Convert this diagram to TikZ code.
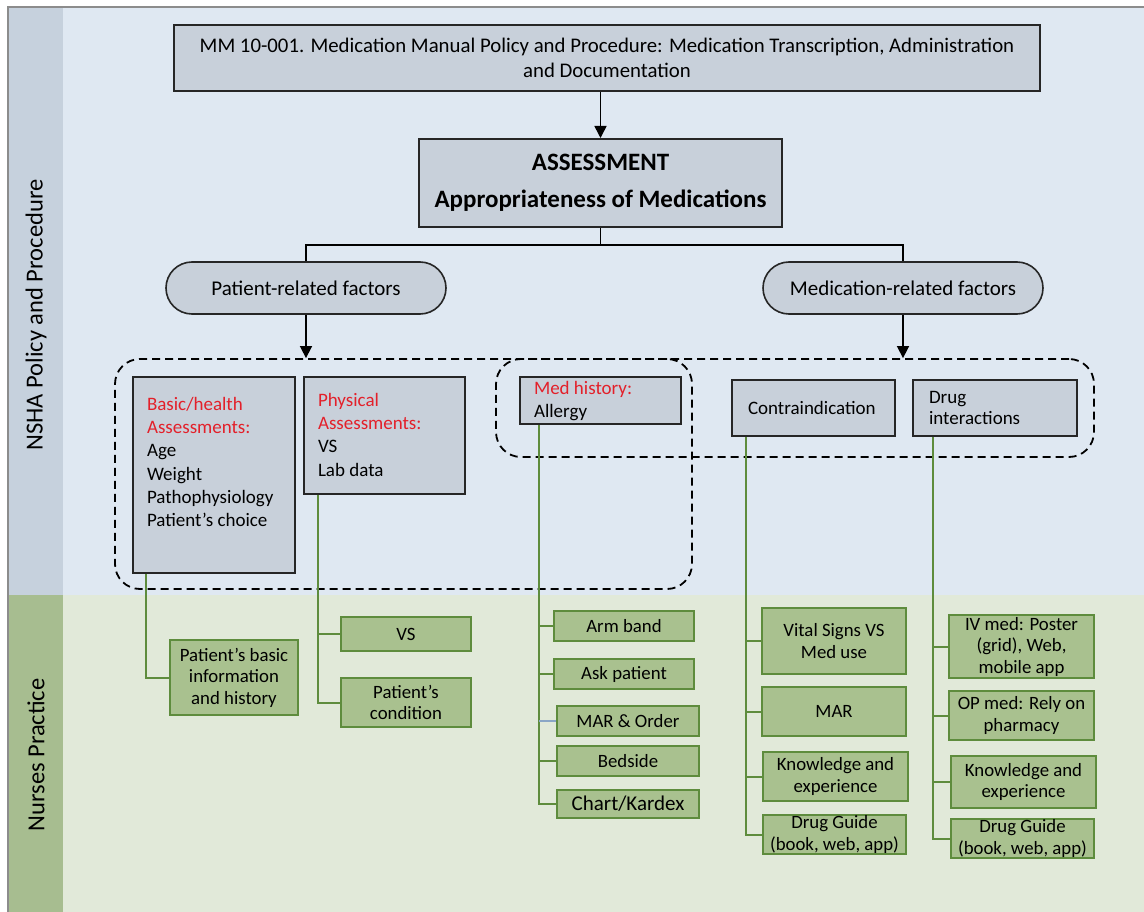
\documentclass[tikz,border=0pt]{standalone}
\usepackage{fontspec}
\setmainfont{Carlito}
\usetikzlibrary{arrows.meta}
\definecolor{bgblue}{HTML}{DFE8F2}
\definecolor{colblue}{HTML}{C6D1DD}
\definecolor{bggreen}{HTML}{E1E9D9}
\definecolor{colgreen}{HTML}{A7BD90}
\definecolor{boxgray}{HTML}{C8D0DA}
\definecolor{gfill}{HTML}{A9C18F}
\definecolor{glinecol}{HTML}{5E8C3D}
\definecolor{redtxt}{HTML}{E3202A}
\definecolor{bluelink}{HTML}{8AA6C6}
\definecolor{edgegray}{HTML}{8C8C8C}
\tikzset{
  body/.style={font=\fontsize{19}{23.3}\selectfont},
  graybox/.style={draw=black!85, line width=2pt, fill=boxgray, inner sep=0pt},
  pill/.style={draw=black!85, line width=1.6pt, fill=boxgray, rounded corners=26pt,
    font=\fontsize{21}{25}\selectfont, inner sep=0pt},
  greenbox/.style={draw=glinecol, line width=2pt, fill=gfill, inner sep=0pt, align=center,
    font=\fontsize{18.8}{21.5}\selectfont},
  region/.style={draw=black, line width=1.8pt, dash pattern=on 8pt off 5pt, rounded corners=25pt, inner sep=0pt},
  conn/.style={draw=black, line width=1.6pt},
  arr/.style={conn, -{Triangle[length=12pt,width=12pt]}},
  glink/.style={draw=glinecol, line width=2pt},
  sidelabel/.style={rotate=90, font=\fontsize{24.5}{28}\selectfont}
}
\begin{document}
\begin{tikzpicture}[x=1pt,y=-1pt]
\useasboundingbox (0,0) rectangle (1144,912);
% bands
\fill[white] (0,0) rectangle (1144,912);
\fill[bgblue] (8,8) rectangle (1144,595);
\fill[bggreen] (8,595) rectangle (1144,912);
\fill[colblue] (8,8) rectangle (63,595);
\fill[colgreen] (8,595) rectangle (63,912);
\draw[edgegray, line width=1.6pt] (8,912) -- (8,7) -- (1144,7);
\node[sidelabel] (lab1) at (36,315) {NSHA Policy and Procedure};
\node[sidelabel] (lab2) at (36,755) {Nurses Practice};

% dashed regions
\node[region, minimum width=577pt, minimum height=230pt] (reg1) at (403.5,474) {};
\node[region, minimum width=598pt, minimum height=98pt] (reg2) at (795,408) {};

% top
\node[graybox, minimum width=866pt, minimum height=66pt, align=center,
  font=\fontsize{20.8}{25}\selectfont] (top) at (607,58)
  {MM 10-001. Medication Manual Policy and Procedure: Medication Transcription, Administration\\and Documentation};
\node[graybox, minimum width=363pt, minimum height=88pt, align=center,
  font=\fontsize{25}{37}\selectfont\bfseries] (assess) at (600.5,183)
  {ASSESSMENT\\Appropriateness of Medications};
\node[pill, minimum width=280pt, minimum height=52pt] (pat) at (306,288) {Patient-related factors};
\node[pill, minimum width=280pt, minimum height=52pt] (med) at (903,288) {Medication-related factors};

\draw[arr] (top.south -| assess.north) -- (assess.north);
\coordinate (br) at (600.5,245);
\draw[conn] (assess.south) -- (br) -| (pat.north);
\draw[conn] (br) -| (med.north);
\draw[arr] (pat.south) -- (pat.south |- reg1.north);
\draw[arr] (med.south) -- (med.south |- reg2.north);

% gray boxes
\node[graybox, body, anchor=north west, inner xsep=14pt, inner ysep=20pt] (basic) at (132,376)
  {\parbox[t][156pt][t]{134pt}{{\color{redtxt}Basic/health\\Assessments:}\\Age\\Weight\\Pathophysiology\\Patient’s choice}};
\node[graybox, body, anchor=north west, inner xsep=14pt, inner ysep=16pt] (phys) at (303,376)
  {\parbox[t][85pt][t]{133pt}{{\color{redtxt}Physical\\Assessments:}\\VS\\Lab data}};
\node[graybox, body, anchor=north west, inner xsep=14pt, inner ysep=4pt] (medh) at (519,376)
  {\parbox[t][39pt][t]{133pt}{{\color{redtxt}Med history:}\\Allergy}};
\node[graybox, body, minimum width=163pt, minimum height=56pt, text width=131pt, align=left] (contra) at (813.5,408)
  {Contraindication};
\node[graybox, font=\fontsize{19}{21.5}\selectfont, minimum width=164pt, minimum height=56pt, text width=132pt, align=left] (drug) at (995,408)
  {Drug\\interactions};

% green boxes
\node[greenbox, minimum width=128pt, minimum height=75pt] (gbasic) at (234,677.5) {Patient’s basic\\information\\and history};
\node[greenbox, minimum width=130pt, minimum height=34pt] (gvs) at (406,634) {VS};
\node[greenbox, minimum width=130pt, minimum height=49pt] (gcond) at (406,702.5) {Patient’s\\condition};
\node[greenbox, minimum width=140pt, minimum height=30pt] (garm) at (624,626) {Arm band};
\node[greenbox, minimum width=140pt, minimum height=30pt] (gask) at (624,674) {Ask patient};
\node[greenbox, minimum width=142pt, minimum height=30pt] (gmar) at (628,721) {MAR \& Order};
\node[greenbox, minimum width=142pt, minimum height=30pt] (gbed) at (628,761) {Bedside};
\node[greenbox, minimum width=142pt, minimum height=28pt, font=\fontsize{21}{24}\selectfont] (gchart) at (628,804) {Chart/Kardex};
\node[greenbox, minimum width=144pt, minimum height=66pt] (gvital) at (834,641) {Vital Signs VS\\Med use};
\node[greenbox, minimum width=144pt, minimum height=49pt] (gmar2) at (834,711.5) {MAR};
\node[greenbox, minimum width=145pt, minimum height=49pt] (gknow1) at (835.5,776.5) {Knowledge and\\experience};
\node[greenbox, minimum width=143pt, minimum height=39pt] (gguide1) at (834.5,834.5) {Drug Guide\\(book, web, app)};
\node[greenbox, minimum width=145pt, minimum height=63pt] (giv) at (1021.5,646.5) {IV med: Poster\\(grid), Web,\\mobile app};
\node[greenbox, minimum width=145pt, minimum height=49pt] (gop) at (1021.5,715.5) {OP med: Rely on\\pharmacy};
\node[greenbox, minimum width=145pt, minimum height=52pt] (gknow2) at (1023.5,782) {Knowledge and\\experience};
\node[greenbox, minimum width=143pt, minimum height=39pt] (gguide2) at (1022.5,838.5) {Drug Guide\\(book, web, app)};

% green connectors
\coordinate (bv) at ([xshift=14pt]basic.south west);
\coordinate (pv) at ([xshift=15pt]phys.south west);
\coordinate (mv) at ([xshift=20pt]medh.south west);
\coordinate (cv) at ([xshift=15pt]contra.south west);
\coordinate (dv) at ([xshift=21pt]drug.south west);
\draw[glink] (bv) |- (gbasic.west);
\draw[glink] (pv) |- (gcond.west);
\draw[glink] (gvs.west) -- (gvs.west -| pv);
\draw[glink] (mv) |- (gchart.west);
\draw[glink] (garm.west) -- (garm.west -| mv);
\draw[glink] (gask.west) -- (gask.west -| mv);
\draw[draw=bluelink, line width=2pt] (gmar.west) -- (gmar.west -| mv);
\draw[glink] (gbed.west) -- (gbed.west -| mv);
\draw[glink] (cv) |- (gguide1.west);
\draw[glink] (gvital.west) -- (gvital.west -| cv);
\draw[glink] (gmar2.west) -- (gmar2.west -| cv);
\draw[glink] (gknow1.west) -- (gknow1.west -| cv);
\draw[glink] (dv) |- (gguide2.west);
\draw[glink] (giv.west) -- (giv.west -| dv);
\draw[glink] (gop.west) -- (gop.west -| dv);
\draw[glink] (gknow2.west) -- (gknow2.west -| dv);
\end{tikzpicture}
\end{document}
